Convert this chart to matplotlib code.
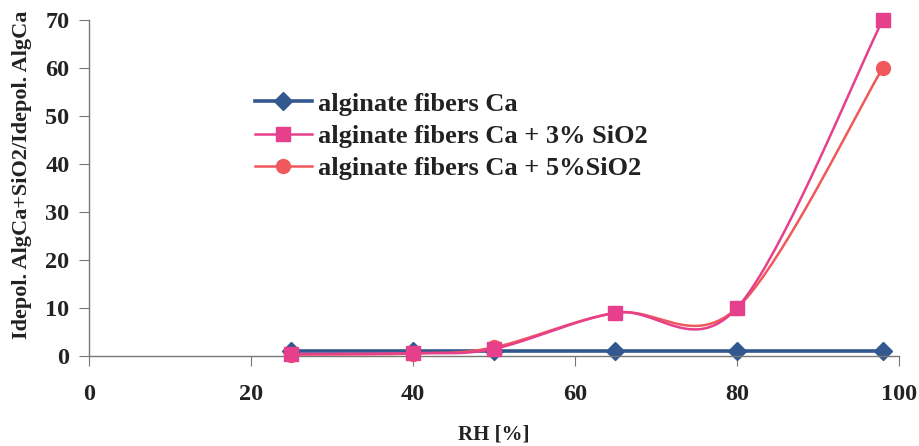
import numpy as np
import matplotlib.pyplot as plt

# Data
rh = [25, 40, 50, 65, 80, 98]
ca = [1.0, 1.0, 1.0, 1.0, 1.0, 1.0]
ca_3 = [0.4, 0.6, 1.5, 9.0, 10.0, 70.0]
ca_5 = [0.3, 0.5, 1.8, 9.0, 10.0, 60.0]

labels = ['alginate fibers Ca', 'alginate fibers Ca + 3% SiO2', 'alginate fibers Ca + 5%SiO2']
colors = ['#33578f', '#e6408c', '#f0585c']


def smooth(x, y, n=40):
    # Excel-like smoothed line (Bezier through points, tangents from neighbours)
    p = np.column_stack([x, y]).astype(float)
    out = []
    for i in range(len(p) - 1):
        p0 = p[max(i - 1, 0)]
        p1, p2 = p[i], p[i + 1]
        p3 = p[min(i + 2, len(p) - 1)]
        c1 = p1 + (p2 - p0) / 6
        c2 = p2 - (p3 - p1) / 6
        t = np.linspace(0, 1, n)[:, None]
        seg = ((1 - t) ** 3) * p1 + 3 * ((1 - t) ** 2) * t * c1 + 3 * (1 - t) * t ** 2 * c2 + t ** 3 * p2
        out.append(seg)
    s = np.vstack(out)
    return s[:, 0], s[:, 1]


plt.rcParams['font.family'] = ['Liberation Serif', 'DejaVu Serif']
plt.rcParams['font.weight'] = 'bold'

fig = plt.figure(figsize=(9.2, 4.46), dpi=100)
ax = fig.add_axes([0.0967, 0.2018, 0.8804, 0.7534])

ax.plot(rh, ca, color=colors[0], lw=2.6, marker='D', ms=9, zorder=2, clip_on=False)
sx, sy = smooth(rh, ca_5)
ax.plot(sx, sy, color=colors[2], lw=1.8, zorder=3, clip_on=False)
ax.plot(rh, ca_5, ls='none', marker='o', ms=10, color=colors[2], zorder=3, clip_on=False)
sx, sy = smooth(rh, ca_3)
ax.plot(sx, sy, color=colors[1], lw=1.8, zorder=4, clip_on=False)
ax.plot(rh, ca_3, ls='none', marker='s', ms=10, color=colors[1], zorder=4, clip_on=False)

handles = [
    plt.Line2D([], [], color=colors[0], lw=2.6, marker='D', ms=9),
    plt.Line2D([], [], color=colors[1], lw=1.8, marker='s', ms=10),
    plt.Line2D([], [], color=colors[2], lw=1.8, marker='o', ms=10),
]
ax.legend(handles, labels, loc='upper left', bbox_to_anchor=(0.205, 0.785), frameon=False,
          prop={'size': 19, 'weight': 'bold'}, handlelength=2.15, handletextpad=0.25,
          labelspacing=0.33, borderaxespad=0, borderpad=0, labelcolor='#222222')

ax.set_xlim(0, 100)
ax.set_ylim(0, 70)
ax.set_xticks([0, 20, 40, 60, 80, 100])
ax.set_yticks(range(0, 71, 10))
ax.spines['top'].set_visible(False)
ax.spines['right'].set_visible(False)
for s in ['left', 'bottom']:
    ax.spines[s].set_color('#777777')
    ax.spines[s].set_linewidth(1.0)
ax.tick_params(axis='both', direction='out', length=7, color='#777777', labelsize=17.5, labelcolor='#222222')
ax.tick_params(axis='x', pad=13)
ax.tick_params(axis='y', pad=7)

ax.set_xlabel('RH [%]', fontsize=15, fontweight='bold', color='#222222')
ax.set_ylabel('Idepol. AlgCa+SiO2/Idepol. AlgCa', fontsize=16, fontweight='bold', color='#222222')
ax.xaxis.set_label_coords(0.5, -0.203)
ax.yaxis.set_label_coords(-0.07, 0.539)

fig.savefig('out.png', dpi=100)
